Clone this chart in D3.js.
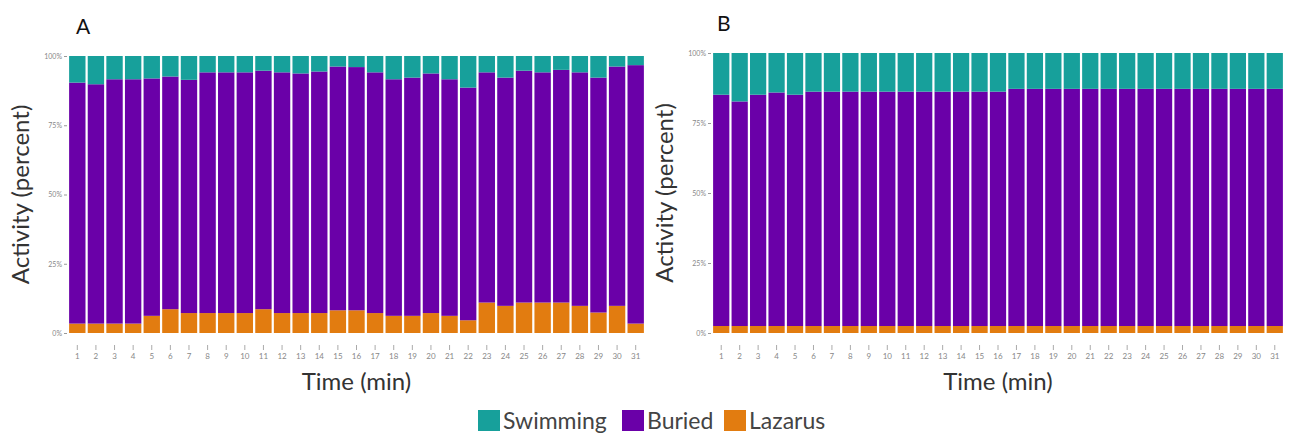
<!DOCTYPE html>
<html><head><meta charset="utf-8">
<script src="https://cdn.jsdelivr.net/npm/d3@7"></script>
<style>body{margin:0;background:#fff}svg{display:block}</style>
</head><body>
<svg id="chart" width="1290" height="437"></svg>
<script>
const minutes = d3.range(1, 32).map(String);
const keys = ["Lazarus", "Buried", "Swimming"];
const legendKeys = ["Swimming", "Buried", "Lazarus"];
const yTicks = [0, 25, 50, 75, 100];
const yTickLabels = ["0%", "25%", "50%", "75%", "100%"];

const swimmingA = [9.6,10.2,8.4,8.4,8.1,7.4,8.6,5.9,5.9,5.9,5.3,5.9,6.3,5.6,3.8,4.0,5.9,8.4,7.8,6.3,8.4,11.4,5.9,7.8,5.3,5.9,5.0,5.9,7.8,3.8,3.3];
const buriedA   = [87.0,86.4,88.2,88.2,85.7,84.0,84.2,86.9,86.9,86.9,86.1,86.9,86.5,87.2,88.0,87.8,86.9,85.4,86.0,86.5,85.4,84.0,83.1,82.4,83.7,83.1,84.0,84.3,84.8,86.4,93.3];
const lazarusA  = [3.4,3.4,3.4,3.4,6.2,8.6,7.2,7.2,7.2,7.2,8.6,7.2,7.2,7.2,8.2,8.2,7.2,6.2,6.2,7.2,6.2,4.6,11.0,9.8,11.0,11.0,11.0,9.8,7.4,9.8,3.4];

const swimmingB = [14.9,17.3,14.9,14.1,14.9,13.8,13.8,13.8,13.8,13.8,13.8,13.8,13.8,13.8,13.8,13.8,12.8,12.8,12.8,12.8,12.8,12.8,12.8,12.8,12.8,12.8,12.8,12.8,12.8,12.8,12.8];
const buriedB   = [82.6,80.2,82.6,83.4,82.6,83.7,83.7,83.7,83.7,83.7,83.7,83.7,83.7,83.7,83.7,83.7,84.7,84.7,84.7,84.7,84.7,84.7,84.7,84.7,84.7,84.7,84.7,84.7,84.7,84.7,84.7];
const lazarusB  = [2.5,2.5,2.5,2.5,2.5,2.5,2.5,2.5,2.5,2.5,2.5,2.5,2.5,2.5,2.5,2.5,2.5,2.5,2.5,2.5,2.5,2.5,2.5,2.5,2.5,2.5,2.5,2.5,2.5,2.5,2.5];

const color = d3.scaleOrdinal().domain(["Swimming","Buried","Lazarus"]).range(["#17a09b", "#6a00a8", "#e27c10"]);
const FONT = "Lato, 'Open Sans', sans-serif";
const svg = d3.select("#chart");

function panel(cfg) {
  const rows = minutes.map((m, i) => ({minute: m, Swimming: cfg.swim[i], Buried: cfg.buried[i], Lazarus: cfg.laz[i]}));
  const series = d3.stack().keys(keys)(rows);
  const x = d3.scaleBand().domain(minutes).range([cfg.x0, cfg.x1]).paddingInner(0.12).paddingOuter(0.06);
  const y = d3.scaleLinear().domain([0, 100]).range([cfg.yb, cfg.yt]);
  const g = svg.append("g");

  g.selectAll("g.s").data(series).join("g").attr("class", "s")
    .attr("fill", d => color(d.key))
    .selectAll("rect").data(d => d).join("rect")
    .attr("x", d => x(d.data.minute))
    .attr("width", x.bandwidth())
    .attr("y", d => y(d[1]))
    .attr("height", d => y(d[0]) - y(d[1]));

  // y axis
  const ya = g.append("g").attr("transform", `translate(${cfg.x0 - 1},0)`)
    .call(d3.axisLeft(y).tickValues(yTicks).tickFormat((d, i) => yTickLabels[i]).tickSize(3).tickPadding(2));
  ya.select(".domain").remove();
  ya.selectAll("line").attr("stroke", "#999");
  ya.selectAll("text").attr("fill", "#888").attr("font-size", 7).attr("font-family", FONT);

  // x axis
  const xa = g.append("g").attr("transform", `translate(0,${cfg.yb + 12})`)
    .call(d3.axisBottom(x).tickSize(5).tickPadding(3));
  xa.select(".domain").remove();
  xa.selectAll("line").attr("stroke", "#aaa");
  xa.selectAll("text").attr("fill", "#888").attr("font-size", 8).attr("font-family", FONT);

  g.append("text").attr("x", cfg.labelX).attr("y", cfg.labelY).text(cfg.label)
    .attr("font-family", FONT).attr("font-size", 21).attr("fill", "#111");
  g.append("text").attr("x", (cfg.x0 + cfg.x1) / 2).attr("y", 390).attr("text-anchor", "middle")
    .text("Time (min)").attr("font-family", FONT).attr("font-size", 24).attr("fill", "#333");
  g.append("text").attr("transform", `translate(${cfg.titleX},${(cfg.yt + cfg.yb) / 2}) rotate(-90)`)
    .attr("text-anchor", "middle").text("Activity (percent)")
    .attr("font-family", FONT).attr("font-size", 24).attr("fill", "#333");
}

panel({swim: swimmingA, buried: buriedA, laz: lazarusA, x0: 68, x1: 645, yt: 56, yb: 333, label: "A", labelX: 76, labelY: 34, titleX: 29});
panel({swim: swimmingB, buried: buriedB, laz: lazarusB, x0: 712, x1: 1284, yt: 53, yb: 333, label: "B", labelX: 717, labelY: 31, titleX: 673});

// legend
const legendX = [478, 622, 724];
const lg = svg.append("g");
legendKeys.forEach((k, i) => {
  lg.append("rect").attr("x", legendX[i]).attr("y", 410).attr("width", 22).attr("height", 21).attr("fill", color(k));
  lg.append("text").attr("x", legendX[i] + 25).attr("y", 429).text(k)
    .attr("font-family", FONT).attr("font-size", 23).attr("fill", "#444");
});
</script>
</body></html>
